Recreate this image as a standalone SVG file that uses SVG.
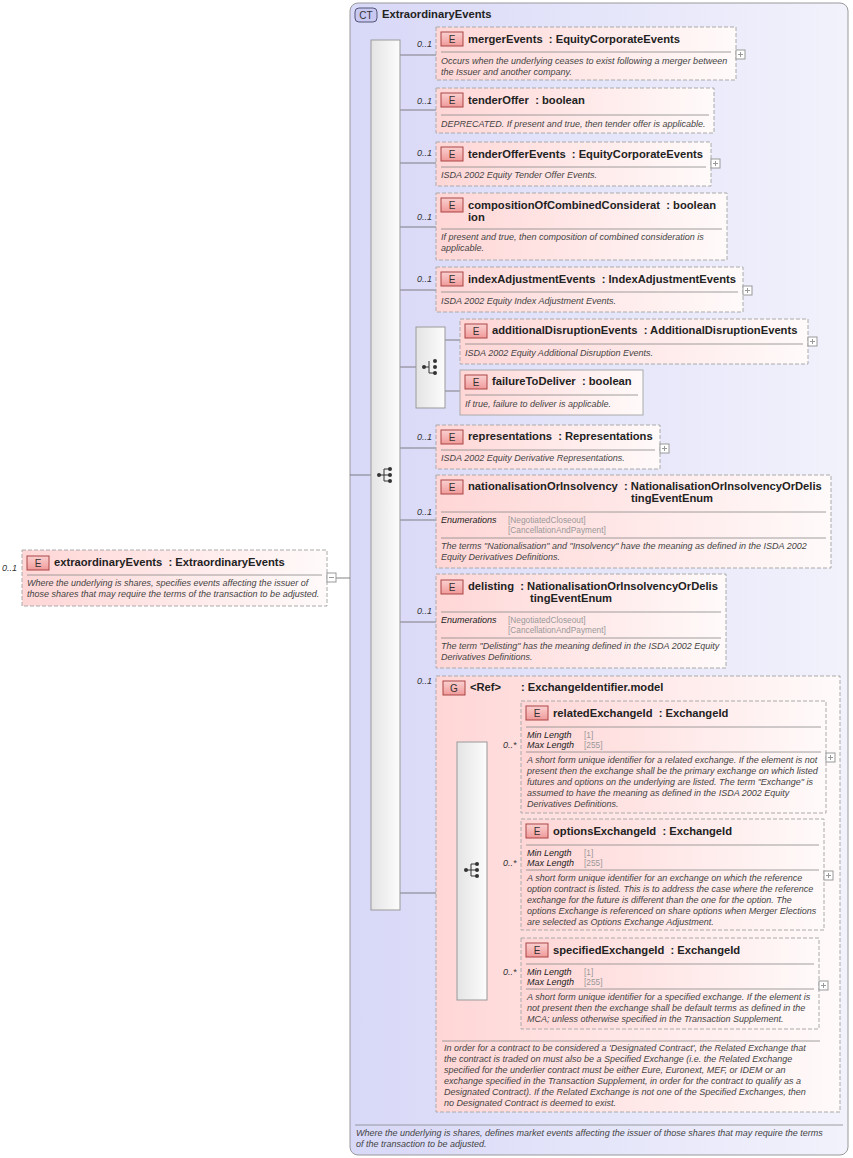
<svg xmlns="http://www.w3.org/2000/svg" xmlns:xlink="http://www.w3.org/1999/xlink" width="853" height="1158" viewBox="0 0 853 1158">
<style>
text{font-family:"Liberation Sans",Arial,sans-serif;white-space:pre}
.h{font-size:11.2px;font-weight:bold;fill:#222}
.d{font-size:9px;font-style:italic;fill:#444}
.m{font-size:9px;font-style:italic;fill:#222}
.v{font-size:8.3px;fill:#999}
.c{font-size:9px;font-style:italic;fill:#333}
.el{fill:url(#eg);stroke:#aaa;stroke-dasharray:4,2}
.els{fill:url(#eg);stroke:#aaa}
.sep{stroke:#888;stroke-width:0.8}
.ln{stroke:#666;stroke-width:0.8;fill:none}
.bar{fill:url(#bg);stroke:#999}
.bt{font-size:10px;fill:#333;text-anchor:middle}
</style>
<defs>
<linearGradient id="eg" x1="0" x2="1" y1="0" y2="0"><stop offset="0" stop-color="#ffd6d6"/><stop offset="1" stop-color="#fffafa"/></linearGradient>
<linearGradient id="bg" x1="0" x2="1"><stop offset="0" stop-color="#e4e4e4"/><stop offset="1" stop-color="#fcfcfc"/></linearGradient>
<linearGradient id="ctg" x1="0" x2="1"><stop offset="0" stop-color="#d8d8f8"/><stop offset="1" stop-color="#f2f2fc"/></linearGradient>
<linearGradient id="badge" x1="0" x2="0" y1="0" y2="1"><stop offset="0" stop-color="#fbd0d0"/><stop offset="1" stop-color="#f09a9a"/></linearGradient>
<g id="E"><rect width="22" height="14" fill="url(#badge)" stroke="#a44"/><text x="11" y="11" class="bt">E</text></g>
<g id="plus"><rect width="9" height="9" fill="#fff" stroke="#999"/><path d="M2 4.5h5M4.5 2v5" stroke="#999"/></g>
<g id="seq" fill="#333"><path d="M-7 0h5M-2 -6v12M-2 -6h5M-2 0h5M-2 6h5" stroke="#333" fill="none"/><circle cx="-7" cy="0" r="2"/><circle cx="4" cy="-6" r="2"/><circle cx="4" cy="0" r="2"/><circle cx="4" cy="6" r="2"/></g>
<g id="cho" fill="#333"><path d="M-7 0h5M-2 -6v12M-2 6h5" stroke="#333" fill="none"/><circle cx="-7" cy="0" r="2"/><circle cx="4" cy="-6" r="2"/><circle cx="4" cy="0" r="2"/><circle cx="4" cy="6" r="2"/></g>
</defs>
<rect width="853" height="1158" fill="#fff"/>

<g id="ct">
<rect x="350" y="3" width="498" height="1152" rx="8" fill="url(#ctg)" stroke="#999"/>
<rect x="355" y="8" width="22" height="14" rx="4" fill="#c8c8f0" stroke="#557"/><text x="366" y="19" class="bt">CT</text>
<text x="382" y="18" class="h">ExtraordinaryEvents</text>
<line x1="355" y1="1125" x2="843" y2="1125" class="sep"/>
<text x="356" y="1136" class="d">Where the underlying is shares, defines market events affecting the issuer of those shares that may require the terms</text>
<text x="356" y="1147" class="d">of the transaction to be adjusted.</text>
</g>

<g id="connectors">
<path class="ln" d="M336 578H350M350 475H371"/>
<path class="ln" d="M400 55H436M400 110H436M400 163H436M400 227H436M400 290H436M400 367H416M445 340H460M445 391H460M400 448H436M400 520H436M400 622H436M400 893H436M487 757H521M487 875H521M487 985H521"/>
</g>

<g id="extraordinaryEvents">
<text x="2" y="571" class="c">0..1</text>
<rect x="22" y="550" width="305" height="56" class="el"/>
<use xlink:href="#E" x="27" y="556"/>
<text x="54" y="566" class="h">extraordinaryEvents  : ExtraordinaryEvents</text>
<line x1="27" y1="575" x2="322" y2="575" class="sep"/>
<text x="27" y="586" class="d">Where the underlying is shares, specifies events affecting the issuer of</text>
<text x="27" y="597" class="d">those shares that may require the terms of the transaction to be adjusted.</text>
<rect x="327" y="573" width="9" height="9" fill="#fff" stroke="#999"/><path d="M329 577.5h5" stroke="#999"/>
</g>

<g id="seqMain"><rect x="371" y="40" width="29" height="870" class="bar"/><use xlink:href="#seq" x="386" y="475"/></g>

<g id="mergerEvents">
<text x="417" y="47" class="c">0..1</text>
<rect x="436" y="27" width="300" height="53" class="el"/>
<use xlink:href="#E" x="441" y="32"/>
<text x="468" y="43" class="h">mergerEvents  : EquityCorporateEvents</text>
<line x1="441" y1="52" x2="731" y2="52" class="sep"/>
<text x="441" y="64" class="d">Occurs when the underlying ceases to exist following a merger between</text>
<text x="441" y="75" class="d">the Issuer and another company.</text>
<use xlink:href="#plus" x="736" y="50"/>
</g>

<g id="tenderOffer">
<text x="417" y="104" class="c">0..1</text>
<rect x="436" y="88" width="278" height="45" class="el"/>
<use xlink:href="#E" x="441" y="93"/>
<text x="468" y="104" class="h">tenderOffer  : boolean</text>
<line x1="441" y1="115" x2="709" y2="115" class="sep"/>
<text x="441" y="127" class="d">DEPRECATED. If present and true, then tender offer is applicable.</text>
</g>

<g id="tenderOfferEvents">
<text x="417" y="156" class="c">0..1</text>
<rect x="436" y="142" width="275" height="44" class="el"/>
<use xlink:href="#E" x="441" y="147"/>
<text x="468" y="158" class="h">tenderOfferEvents  : EquityCorporateEvents</text>
<line x1="441" y1="167" x2="706" y2="167" class="sep"/>
<text x="441" y="178" class="d">ISDA 2002 Equity Tender Offer Events.</text>
<use xlink:href="#plus" x="711" y="159"/>
</g>

<g id="compositionOfCombinedConsideration">
<text x="417" y="220" class="c">0..1</text>
<rect x="436" y="193" width="291" height="67" class="el"/>
<use xlink:href="#E" x="441" y="198"/>
<text x="468" y="209" class="h">compositionOfCombinedConsiderat  : boolean</text>
<text x="468" y="221" class="h">ion</text>
<line x1="441" y1="229" x2="722" y2="229" class="sep"/>
<text x="441" y="240" class="d">If present and true, then composition of combined consideration is</text>
<text x="441" y="251" class="d">applicable.</text>
</g>

<g id="indexAdjustmentEvents">
<text x="417" y="282" class="c">0..1</text>
<rect x="436" y="267" width="307" height="45" class="el"/>
<use xlink:href="#E" x="441" y="272"/>
<text x="468" y="283" class="h">indexAdjustmentEvents  : IndexAdjustmentEvents</text>
<line x1="441" y1="292" x2="738" y2="292" class="sep"/>
<text x="441" y="304" class="d">ISDA 2002 Equity Index Adjustment Events.</text>
<use xlink:href="#plus" x="743" y="286"/>
</g>

<g id="choice"><rect x="416" y="327" width="29" height="81" class="bar"/><use xlink:href="#cho" x="431" y="367"/></g>

<g id="additionalDisruptionEvents">
<rect x="460" y="319" width="348" height="45" class="el"/>
<use xlink:href="#E" x="465" y="324"/>
<text x="492" y="334" class="h">additionalDisruptionEvents  : AdditionalDisruptionEvents</text>
<line x1="465" y1="344" x2="803" y2="344" class="sep"/>
<text x="465" y="356" class="d">ISDA 2002 Equity Additional Disruption Events.</text>
<use xlink:href="#plus" x="808" y="337"/>
</g>

<g id="failureToDeliver">
<rect x="460" y="370" width="183" height="45" class="els"/>
<use xlink:href="#E" x="465" y="375"/>
<text x="492" y="385" class="h">failureToDeliver  : boolean</text>
<line x1="465" y1="395" x2="638" y2="395" class="sep"/>
<text x="465" y="407" class="d">If true, failure to deliver is applicable.</text>
</g>

<g id="representations">
<text x="417" y="440" class="c">0..1</text>
<rect x="436" y="425" width="224" height="44" class="el"/>
<use xlink:href="#E" x="441" y="430"/>
<text x="468" y="440" class="h">representations  : Representations</text>
<line x1="441" y1="450" x2="655" y2="450" class="sep"/>
<text x="441" y="461" class="d">ISDA 2002 Equity Derivative Representations.</text>
<use xlink:href="#plus" x="660" y="444"/>
</g>

<g id="nationalisationOrInsolvency">
<text x="417" y="515" class="c">0..1</text>
<rect x="436" y="475" width="395" height="93" class="el"/>
<use xlink:href="#E" x="441" y="480"/>
<text x="468" y="490" class="h">nationalisationOrInsolvency  : NationalisationOrInsolvencyOrDelis</text>
<text x="631" y="502" class="h">tingEventEnum</text>
<line x1="441" y1="512" x2="826" y2="512" class="sep"/>
<text x="441" y="523" class="m">Enumerations</text>
<text x="508" y="523" class="v">[NegotiatedCloseout]</text>
<text x="508" y="533" class="v">[CancellationAndPayment]</text>
<line x1="441" y1="538" x2="826" y2="538" class="sep"/>
<text x="441" y="549" class="d">The terms "Nationalisation" and "Insolvency" have the meaning as defined in the ISDA 2002</text>
<text x="441" y="560" class="d">Equity Derivatives Definitions.</text>
</g>

<g id="delisting">
<text x="417" y="614" class="c">0..1</text>
<rect x="436" y="574" width="290" height="94" class="el"/>
<use xlink:href="#E" x="441" y="580"/>
<text x="468" y="590" class="h">delisting  : NationalisationOrInsolvencyOrDelis</text>
<text x="530" y="602" class="h">tingEventEnum</text>
<line x1="441" y1="612" x2="721" y2="612" class="sep"/>
<text x="441" y="623" class="m">Enumerations</text>
<text x="508" y="623" class="v">[NegotiatedCloseout]</text>
<text x="508" y="633" class="v">[CancellationAndPayment]</text>
<line x1="441" y1="638" x2="721" y2="638" class="sep"/>
<text x="441" y="649" class="d">The term "Delisting" has the meaning defined in the ISDA 2002 Equity</text>
<text x="441" y="660" class="d">Derivatives Definitions.</text>
</g>

<g id="exchangeIdentifierModel">
<text x="417" y="684" class="c">0..1</text>
<rect x="436" y="676" width="404" height="436" class="el"/>
<g transform="translate(443,681)"><rect width="22" height="14" fill="url(#badge)" stroke="#a44"/><text x="11" y="11" class="bt">G</text></g>
<text x="470" y="691" class="h">&lt;Ref&gt;</text>
<text x="521" y="691" class="h">: ExchangeIdentifier.model</text>
<line x1="442" y1="1041" x2="820" y2="1041" class="sep"/>
<text x="444" y="1051" class="d">In order for a contract to be considered a 'Designated Contract', the Related Exchange that</text>
<text x="444" y="1062" class="d">the contract is traded on must also be a Specified Exchange (i.e. the Related Exchange</text>
<text x="444" y="1073" class="d">specified for the underlier contract must be either Eure, Euronext, MEF, or IDEM or an</text>
<text x="444" y="1084" class="d">exchange specified in the Transaction Supplement, in order for the contract to qualify as a</text>
<text x="444" y="1095" class="d">Designated Contract). If the Related Exchange is not one of the Specified Exchanges, then</text>
<text x="444" y="1106" class="d">no Designated Contract is deemed to exist.</text>
</g>

<g id="seqInner"><rect x="457" y="742" width="30" height="258" class="bar"/><use xlink:href="#seq" x="473" y="870"/></g>

<g id="relatedExchangeId">
<text x="503" y="748" class="c">0..*</text>
<rect x="521" y="701" width="305" height="112" class="el"/>
<use xlink:href="#E" x="526" y="706"/>
<text x="553" y="717" class="h">relatedExchangeId  : ExchangeId</text>
<line x1="526" y1="727" x2="821" y2="727" class="sep"/>
<text x="527" y="738" class="m">Min Length</text><text x="584" y="738" class="v">[1]</text>
<text x="527" y="748" class="m">Max Length</text><text x="584" y="748" class="v">[255]</text>
<line x1="526" y1="752" x2="821" y2="752" class="sep"/>
<text x="527" y="763" class="d">A short form unique identifier for a related exchange. If the element is not</text>
<text x="527" y="774" class="d">present then the exchange shall be the primary exchange on which listed</text>
<text x="527" y="785" class="d">futures and options on the underlying are listed. The term "Exchange" is</text>
<text x="527" y="796" class="d">assumed to have the meaning as defined in the ISDA 2002 Equity</text>
<text x="527" y="807" class="d">Derivatives Definitions.</text>
<use xlink:href="#plus" x="826" y="753"/>
</g>

<g id="optionsExchangeId">
<text x="503" y="866" class="c">0..*</text>
<rect x="521" y="819" width="303" height="111" class="el"/>
<use xlink:href="#E" x="526" y="824"/>
<text x="553" y="835" class="h">optionsExchangeId  : ExchangeId</text>
<line x1="526" y1="845" x2="819" y2="845" class="sep"/>
<text x="527" y="856" class="m">Min Length</text><text x="584" y="856" class="v">[1]</text>
<text x="527" y="866" class="m">Max Length</text><text x="584" y="866" class="v">[255]</text>
<line x1="526" y1="870" x2="819" y2="870" class="sep"/>
<text x="527" y="881" class="d">A short form unique identifier for an exchange on which the reference</text>
<text x="527" y="892" class="d">option contract is listed. This is to address the case where the reference</text>
<text x="527" y="903" class="d">exchange for the future is different than the one for the option. The</text>
<text x="527" y="914" class="d">options Exchange is referenced on share options when Merger Elections</text>
<text x="527" y="925" class="d">are selected as Options Exchange Adjustment.</text>
<use xlink:href="#plus" x="824" y="871"/>
</g>

<g id="specifiedExchangeId">
<text x="503" y="975" class="c">0..*</text>
<rect x="521" y="938" width="298" height="91" class="el"/>
<use xlink:href="#E" x="526" y="943"/>
<text x="553" y="954" class="h">specifiedExchangeId  : ExchangeId</text>
<line x1="526" y1="964" x2="814" y2="964" class="sep"/>
<text x="527" y="975" class="m">Min Length</text><text x="584" y="975" class="v">[1]</text>
<text x="527" y="985" class="m">Max Length</text><text x="584" y="985" class="v">[255]</text>
<line x1="526" y1="989" x2="814" y2="989" class="sep"/>
<text x="527" y="1000" class="d">A short form unique identifier for a specified exchange. If the element is</text>
<text x="527" y="1011" class="d">not present then the exchange shall be default terms as defined in the</text>
<text x="527" y="1022" class="d">MCA; unless otherwise specified in the Transaction Supplement.</text>
<use xlink:href="#plus" x="819" y="981"/>
</g>
</svg>
